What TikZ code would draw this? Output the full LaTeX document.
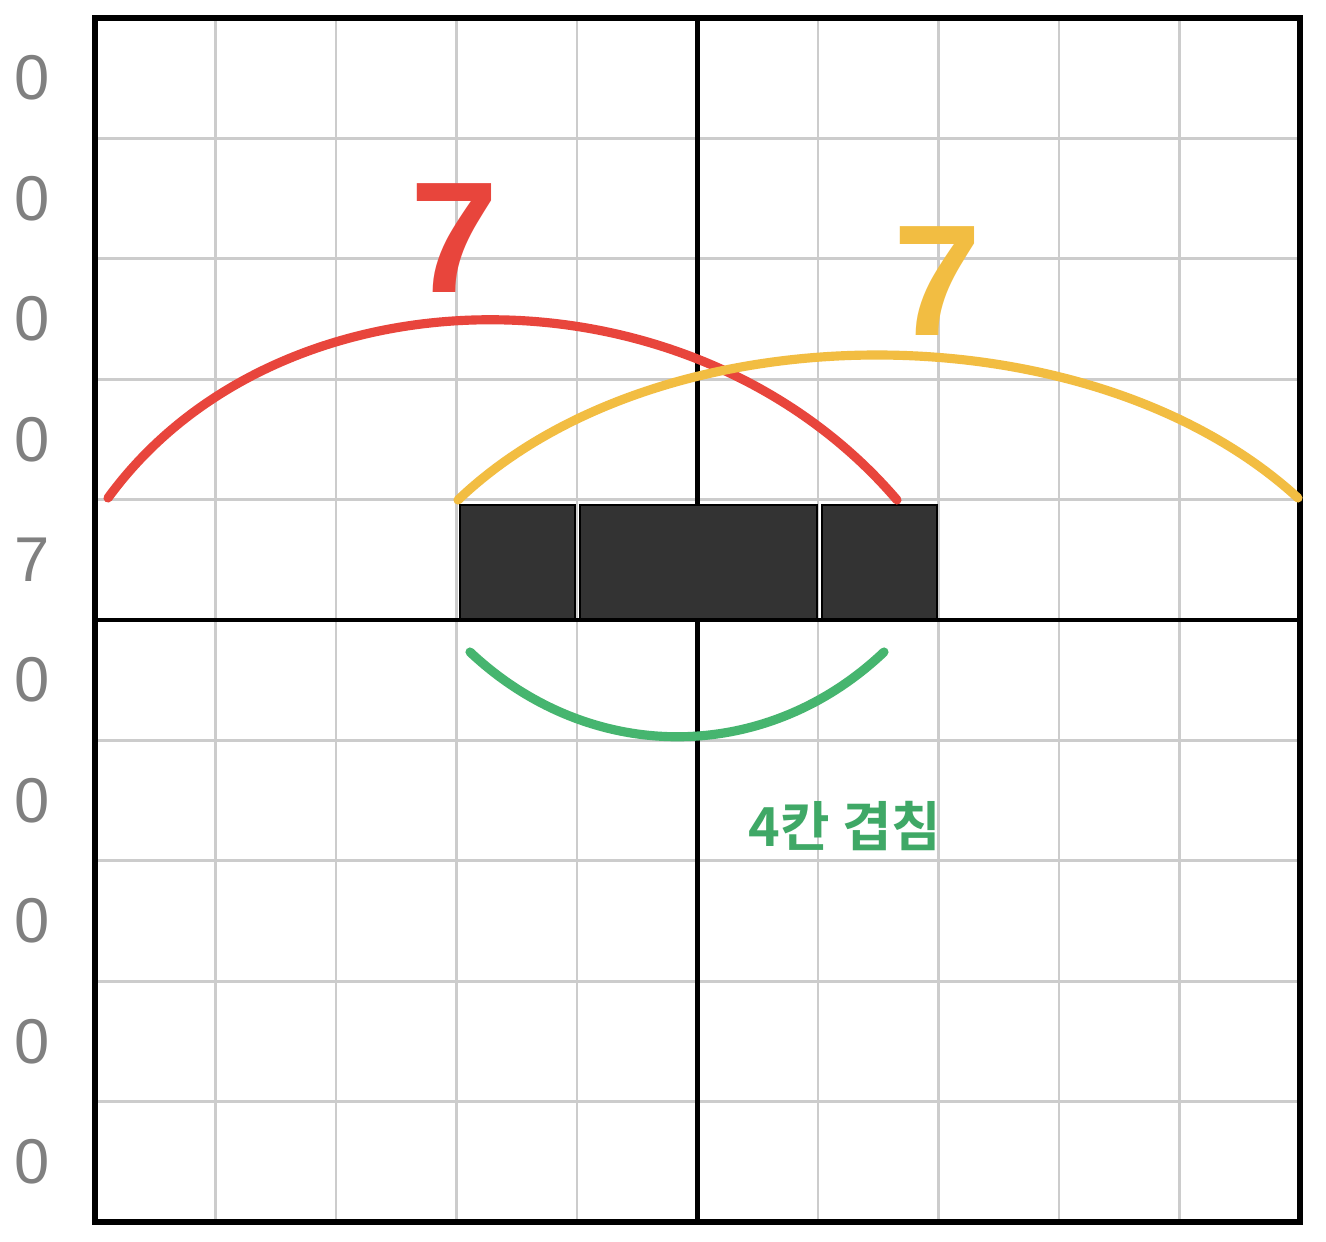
\documentclass[tikz,border=0pt]{standalone}
\usepackage{fontspec}
\setmainfont{Liberation Sans}
\newfontfamily\kofont{Noto Sans CJK KR}[BoldFont={* Bold}]
\definecolor{gridgray}{HTML}{CCCCCC}
\definecolor{labelgray}{HTML}{808080}
\definecolor{arcred}{HTML}{E8453C}
\definecolor{arcyellow}{HTML}{F2BD42}
\definecolor{arcgreen}{HTML}{46B56F}
\definecolor{textgreen}{HTML}{3FA866}
\definecolor{cellfill}{HTML}{333333}
\begin{document}
\begin{tikzpicture}[x=0.01cm,y=-0.01cm,
  thin grid/.style={draw=gridgray,line width=0.8pt},
  thick grid/.style={draw=black,line width=1.4pt},
  rowlabel/.style={text=labelgray,font=\fontsize{18}{20}\selectfont,inner sep=0pt},
  bignum/.style={font=\fontsize{45}{50}\selectfont\bfseries,inner sep=0pt},
  arcline/.style={line width=2.6pt,line cap=round},
  cellbox/.style={fill=cellfill,draw=black,line width=0.6pt,inner sep=0pt,outer sep=0pt,minimum height=1.15cm}]
\useasboundingbox (0,0) rectangle (1326,1242);
\fill[white] (0,0) rectangle (1326,1242);
% thin grid
\foreach \i in {1,...,9}{
  \draw[thin grid] ({95+120.5*\i},18) -- ({95+120.5*\i},1222);
  \draw[thin grid] (95,{18+120.4*\i}) -- (1300,{18+120.4*\i});
}
% thick middle lines
\draw[thick grid] (697.5,18) -- (697.5,1222);
\draw[thick grid] (95,620) -- (1300,620);
% black cells
\node[cellbox,minimum width=1.15cm] (c1) at (517.5,562.5) {};
\node[cellbox,minimum width=2.37cm] (c2) at (698.5,562.5) {};
\node[cellbox,minimum width=1.15cm] (c3) at (879.5,562.5) {};
\draw[thick grid] (95,620) -- (1300,620);
\draw[draw=black,line width=1.6pt] (95,18) rectangle (1300,1222);
% row labels
\foreach \v [count=\j from 0] in {0,0,0,0,7,0,0,0,0,0}{
  \node[rowlabel] (r\j) at (32,{78.2+120.4*\j}) {\v};
}
% arcs
\coordinate (ra) at (108,498);
\coordinate (rb) at (897,500);
\coordinate (ya) at (458,500);
\coordinate (yb) at (1298,498);
\coordinate (ga) at (470,652);
\coordinate (gb) at (884,652);
\draw[arcline,arcred] (ra) .. controls (280,262) and (690,258) .. (rb);
\draw[arcline,arcyellow] (ya) .. controls (660,307) and (1090,307) .. (yb);
\draw[arcline,arcgreen] (ga) .. controls (590,765) and (765,765) .. (gb);
% labels
\node[bignum,text=arcred] (n1) at (455,238) {7};
\node[bignum,text=arcyellow] (n2) at (938,281) {7};
\node[text=textgreen,inner sep=0pt,font=\kofont\bfseries\fontsize{15.3}{18}\selectfont] (ov) at (845,826) {4칸 겹침};
\end{tikzpicture}
\end{document}
